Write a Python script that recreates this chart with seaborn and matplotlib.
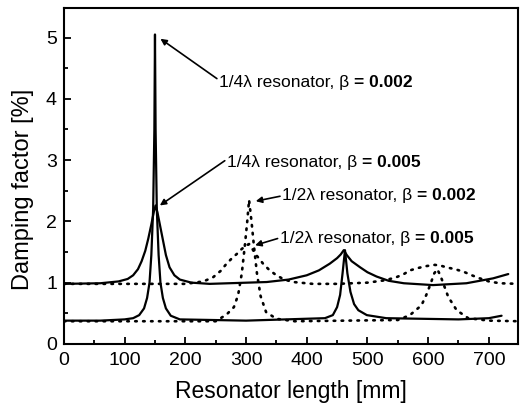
import numpy as np
import pandas as pd
import matplotlib
matplotlib.use('Agg')
import matplotlib.pyplot as plt
from matplotlib.ticker import MultipleLocator
import seaborn as sns

# -----------------------------
# Data
# -----------------------------
# 1/4 lambda resonator, beta = 0.005 (solid, broad)
x_q005 = [0, 60, 90, 105, 114, 122, 128, 134, 139, 144, 148, 151, 154, 158, 163, 168,
          174, 182, 191, 210, 240, 334, 370, 400, 420, 438, 450, 456, 461, 466, 474,
          488, 500, 515, 535, 560, 608, 663, 707, 732]
y_q005 = [0.98, 0.99, 1.02, 1.06, 1.12, 1.22, 1.35, 1.52, 1.72, 1.95, 2.15, 2.26, 2.15,
          1.95, 1.70, 1.45, 1.25, 1.12, 1.05, 1.00, 0.98, 1.01, 1.05, 1.12, 1.20, 1.31,
          1.40, 1.46, 1.53, 1.45, 1.35, 1.25, 1.17, 1.10, 1.03, 0.99, 0.96, 0.99, 1.07,
          1.14]

# 1/4 lambda resonator, beta = 0.002 (solid, sharp)
x_q002 = [0, 60, 100, 114, 124, 132, 137, 141, 144, 147, 149, 150, 151, 153, 156, 159,
          163, 168, 176, 191, 300, 430, 443, 450, 455, 459, 463, 467, 472, 478, 485,
          499, 531, 650, 700, 721]
y_q002 = [0.38, 0.38, 0.40, 0.42, 0.47, 0.58, 0.75, 1.00, 1.45, 2.20, 3.50, 5.05, 3.50,
          2.20, 1.45, 1.00, 0.75, 0.58, 0.46, 0.40, 0.38, 0.42, 0.47, 0.60, 0.80, 1.15,
          1.53, 1.15, 0.85, 0.65, 0.55, 0.47, 0.42, 0.40, 0.42, 0.46]

# 1/2 lambda resonator, beta = 0.005 (dotted, broad)
x_h005 = [0, 200, 230, 246, 258, 268, 277, 285, 293, 301, 305, 310, 315, 321, 328, 338,
          350, 363, 378, 410, 450, 500, 530, 548, 560, 570, 584, 597, 611, 620, 630,
          644, 658, 672, 685, 700, 718, 750]
y_h005 = [0.98, 0.98, 1.02, 1.09, 1.19, 1.31, 1.40, 1.47, 1.55, 1.61, 1.63, 1.56, 1.47,
          1.40, 1.31, 1.21, 1.12, 1.05, 1.01, 0.98, 0.98, 1.00, 1.04, 1.09, 1.14, 1.20,
          1.24, 1.27, 1.29, 1.28, 1.25, 1.22, 1.18, 1.12, 1.07, 1.02, 0.99, 0.98]

# 1/2 lambda resonator, beta = 0.002 (dotted, sharp)
x_h002 = [0, 250, 268, 280, 287, 293, 298, 302, 305, 309, 313, 318, 324, 333, 350, 380,
          550, 570, 589, 597, 604, 610, 615, 620, 626, 633, 647, 666, 700, 750]
y_h002 = [0.37, 0.37, 0.48, 0.60, 0.80, 1.15, 1.60, 2.00, 2.35, 2.00, 1.60, 1.15, 0.78,
          0.52, 0.41, 0.37, 0.39, 0.47, 0.63, 0.80, 0.98, 1.15, 1.22, 1.12, 0.96, 0.77,
          0.55, 0.42, 0.38, 0.37]

# annotations: label, bold part, arrow tip, arrow tail, text left-centre
labels = ["1/4\u03bb resonator, \u03b2 ", "1/4\u03bb resonator, \u03b2 ",
          "1/2\u03bb resonator, \u03b2 ", "1/2\u03bb resonator, \u03b2 "]
bold_parts = ["= 0.002", "= 0.005", "= 0.002", "= 0.005"]
tips = [(159, 4.98), (158, 2.26), (316, 2.33), (315, 1.61)]
tails = [(252, 4.33), (265, 2.99), (356, 2.41), (352, 1.72)]
text_pos = [(256, 4.26), (268, 2.96), (359, 2.42), (356, 1.72)]

# -----------------------------
# Plot
# -----------------------------
sns.set_style('ticks')
plt.rcParams['font.family'] = ['Liberation Sans', 'DejaVu Sans']
for key in ['text.color', 'axes.labelcolor', 'xtick.color', 'ytick.color',
            'axes.edgecolor']:
    plt.rcParams[key] = 'black'

fig = plt.figure(figsize=(5.24, 4.07), dpi=100)
ax = fig.add_axes([0.122, 0.155, 0.8665, 0.825])

solid_kw = dict(color='black', linewidth=1.6, estimator=None, sort=False)
dot_kw = dict(color='black', linewidth=1.9, estimator=None, sort=False)

sns.lineplot(x=x_q005, y=y_q005, ax=ax, **solid_kw)
sns.lineplot(x=x_q002, y=y_q002, ax=ax, **solid_kw)
for xs, ys in [(x_h005, y_h005), (x_h002, y_h002)]:
    ln = sns.lineplot(x=xs, y=ys, ax=ax, **dot_kw).lines[-1]
    ln.set_linestyle((0, (0.6, 2.4)))
    ln.set_dash_capstyle('round')

fs = 12.5
for label, bold, tip, tail, pos in zip(labels, bold_parts, tips, tails, text_pos):
    ax.annotate('', xy=tip, xytext=tail,
                arrowprops=dict(arrowstyle='-|>', color='black', lw=1.2,
                                mutation_scale=9, shrinkA=0, shrinkB=0))
    t = ax.text(pos[0], pos[1], label, fontsize=fs, va='center', ha='left')
    ax.annotate(bold, xy=(1, 0), xycoords=t, va='bottom', ha='left',
                fontsize=fs, fontweight='bold')

ax.set_xlim(0, 748)
ax.set_ylim(0, 5.48)
ax.xaxis.set_major_locator(MultipleLocator(100))
ax.xaxis.set_minor_locator(MultipleLocator(50))
ax.yaxis.set_major_locator(MultipleLocator(1))
ax.yaxis.set_minor_locator(MultipleLocator(0.5))
ax.tick_params(which='both', direction='in', top=False, right=False, width=1.3,
               color='black', labelcolor='black')
ax.tick_params(which='major', length=5, labelsize=14)
ax.tick_params(axis='x', which='major', pad=6)
ax.tick_params(axis='y', which='major', pad=5)
ax.tick_params(which='minor', length=3)
for s in ax.spines.values():
    s.set_linewidth(1.5)
    s.set_color('black')

ax.set_xlabel('Resonator length [mm]', fontsize=16.5, labelpad=8)
ax.set_ylabel('Damping factor [%]', fontsize=17)
ax.yaxis.set_label_coords(-0.066, 0.46)

fig.savefig('out.png', dpi=100)
